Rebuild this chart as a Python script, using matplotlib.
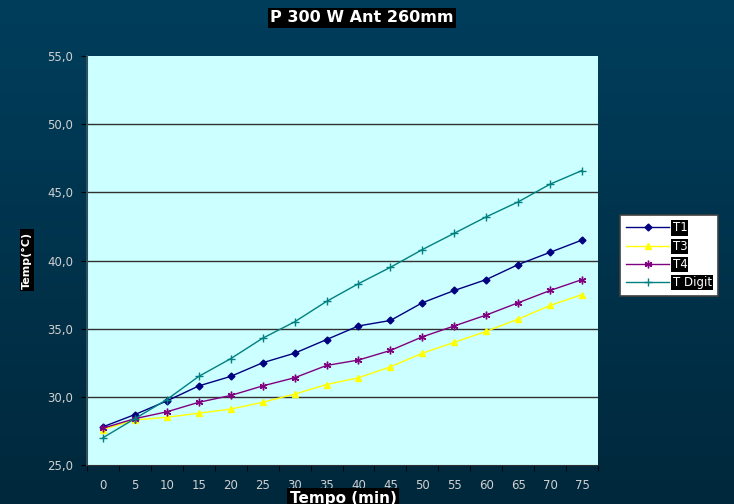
import numpy as np
import matplotlib
matplotlib.use("Agg")
import matplotlib.pyplot as plt
from matplotlib.ticker import FixedLocator, FuncFormatter

plt.rcParams['font.family'] = ['DejaVu Sans']

minutes = [0, 5, 10, 15, 20, 25, 30, 35, 40, 45, 50, 55, 60, 65, 70, 75]
t1 = [27.8, 28.7, 29.7, 30.8, 31.5, 32.5, 33.2, 34.2, 35.2, 35.6, 36.9, 37.8, 38.6, 39.7, 40.6, 41.5]
t3 = [27.6, 28.3, 28.5, 28.8, 29.1, 29.6, 30.2, 30.9, 31.4, 32.2, 33.2, 34.0, 34.8, 35.7, 36.7, 37.5]
t4 = [27.7, 28.4, 28.9, 29.6, 30.1, 30.8, 31.4, 32.3, 32.7, 33.4, 34.4, 35.2, 36.0, 36.9, 37.8, 38.6]
t_digit = [27.0, 28.4, 29.8, 31.5, 32.8, 34.3, 35.5, 37.0, 38.3, 39.5, 40.8, 42.0, 43.2, 44.3, 45.6, 46.6]
y_ticks = [25, 30, 35, 40, 45, 50, 55]

fig = plt.figure(figsize=(7.34, 5.04), dpi=100)

# vertical gradient backdrop
bg = fig.add_axes([0, 0, 1, 1], zorder=-10)
top = np.array([0, 62, 92]) / 255
bottom = np.array([0, 40, 60]) / 255
t = np.linspace(0, 1, 256)[:, None]
grad = (top[None, :] * (1 - t) + bottom[None, :] * t)[:, None, :]
bg.imshow(grad, aspect='auto', extent=[0, 1, 0, 1])
bg.axis('off')

ax = fig.add_axes([87 / 734, 39 / 504, 511 / 734, 409 / 504])
ax.set_facecolor('#CCFFFF')

x = np.arange(len(minutes))
ax.plot(x, t1, color='#000080', marker='D', markersize=3.5, lw=1, label='T1')
ax.plot(x, t3, color='#FFFF00', marker='^', markersize=4.5, lw=1, label='T3')
ax.plot(x, t4, color='#800080', marker=(6, 2, 0), markersize=5.5, mew=1, lw=1, label='T4')
ax.plot(x, t_digit, color='#008080', marker='+', markersize=6, mew=1, lw=1, label='T Digit')

ax.set_xlim(-0.5, len(minutes) - 0.5)
ax.set_ylim(25, 55)
ax.set_yticks(y_ticks)
ax.yaxis.set_major_formatter(FuncFormatter(lambda v, p: f"{v:.1f}".replace('.', ',')))
for yv in y_ticks[1:-1]:
    ax.axhline(yv, color='#303030', lw=1, zorder=0.5)

ax.set_xticks(x)
ax.set_xticklabels([str(m) for m in minutes])
ax.xaxis.set_minor_locator(FixedLocator(np.arange(-0.5, len(minutes), 1.0)))
ax.tick_params(axis='x', which='major', length=0, pad=10, labelsize=8.5, colors='#D0D0D0')
ax.tick_params(axis='x', which='minor', length=4, direction='out', color='black')
ax.tick_params(axis='y', which='major', length=4, direction='out', color='black',
               labelsize=8.5, labelcolor='#D0D0D0', pad=6)

for s in ['top', 'right']:
    ax.spines[s].set_visible(False)
ax.spines['left'].set_color('#305060')
ax.spines['left'].set_linewidth(1.5)
ax.spines['bottom'].set_color('#303030')

box = dict(facecolor='black', edgecolor='none', pad=1.5)
fig.text(362 / 734, 1 - 18 / 504, 'P 300 W Ant 260mm', ha='center', va='center',
         color='white', fontsize=11.5, fontweight='bold', bbox=box)
fig.text(27 / 734, 1 - 260 / 504, 'Temp(°C)', ha='center', va='center', rotation=90,
         color='white', fontsize=8, fontweight='bold', bbox=box)
fig.text(343 / 734, 1 - 498 / 504, 'Tempo (min)', ha='center', va='center',
         color='white', fontsize=11, fontweight='bold', bbox=box)

leg = fig.legend(loc='upper left', bbox_to_anchor=(620 / 734, 1 - 215 / 504),
                 frameon=True, fancybox=False, fontsize=8.5, handlelength=3.6,
                 labelspacing=0.45, borderpad=0.55, handletextpad=0.3,
                 borderaxespad=0, framealpha=1)
leg.get_frame().set_facecolor('white')
leg.get_frame().set_edgecolor('#404040')
leg.get_frame().set_linewidth(1.2)
for txt in leg.get_texts():
    txt.set_color('white')
    txt.set_bbox(dict(facecolor='black', edgecolor='none', pad=0.8))

fig.savefig('out.png', dpi=100)
